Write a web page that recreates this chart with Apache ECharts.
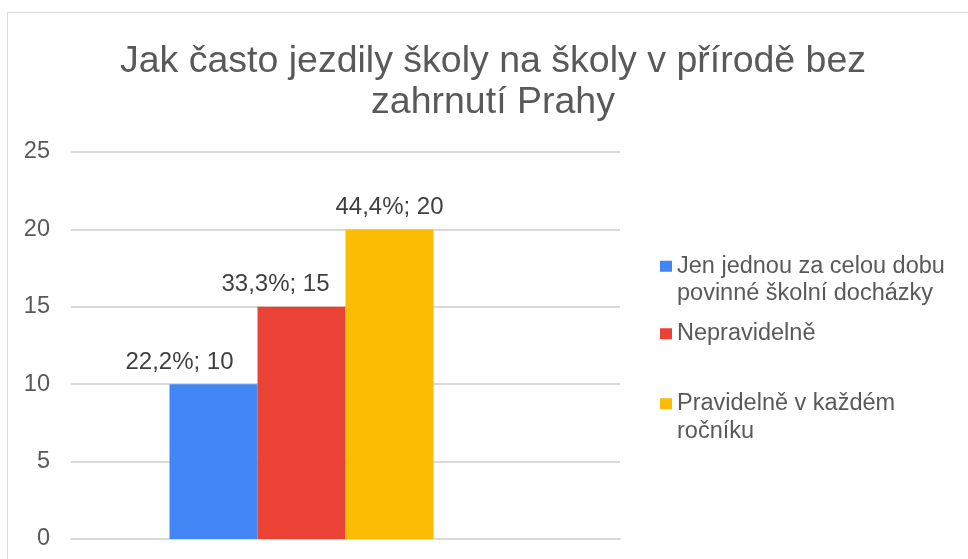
<!DOCTYPE html>
<html>
<head>
<meta charset="utf-8">
<script src="https://cdn.jsdelivr.net/npm/echarts@6/dist/echarts.min.js"></script>
<style>
    html, body { margin: 0; padding: 0; background: #fff; }
    #chart { width: 968px; height: 559px; }
</style>
</head>
<body>
<div id="chart"></div>
<script>
var categories = [''];
var seriesNames = ['Jen jednou za celou dobu povinné školní docházky', 'Nepravidelně', 'Pravidelně v každém ročníku'];
var legendLines = {
    'Jen jednou za celou dobu povinné školní docházky': ['Jen jednou za celou dobu', 'povinné školní docházky'],
    'Nepravidelně': ['Nepravidelně'],
    'Pravidelně v každém ročníku': ['Pravidelně v každém', 'ročníku']
};
var jenJednou = [10];
var nepravidelne = [15];
var pravidelne = [20];
var emptyBar = [null];   // prázdná 4. řada jako v původním grafu
var yTicks = [0, 5, 10, 15, 20, 25];

var myChart = echarts.init(document.getElementById('chart'));
var total = jenJednou[0] + nepravidelne[0] + pravidelne[0];
var font = 'Liberation Sans, Arial, sans-serif';

function labelFmt(p) {
    var pct = (p.value / total * 100).toFixed(1).replace('.', ',');
    return pct + '%; ' + p.value;
}

// ikonka u prvniho radku - prazdny radek nahore vycentruje ikonu na 1. radek
function legendFmt(name) {
    var lines = legendLines[name];
    if (lines.length > 1) {
        return '\n' + lines.join('\n');
    }
    return lines[0];
}

function legendBox(name, top) {
    return {
        data: [name],
        orient: 'vertical',
        left: 660,
        top: top,
        padding: 0,
        itemWidth: 12,
        itemHeight: 11,
        itemGap: 0,
        icon: 'rect',
        selectedMode: false,
        formatter: legendFmt,
        textStyle: {
            fontFamily: font,
            fontSize: 23.5,
            lineHeight: 27.5,
            color: '#595959'
        }
    };
}

function barSeries(name, data, color, offsetX) {
    return {
        name: name,
        type: 'bar',
        data: data,
        barWidth: 88,
        barGap: '0%',
        itemStyle: { color: color },
        label: {
            show: true,
            position: 'top',
            distance: 10,
            offset: [offsetX, 0],
            formatter: labelFmt,
            fontFamily: font,
            fontSize: 24,
            color: '#404040'
        }
    };
}

option = {
    animation: false,
    backgroundColor: '#fff',
    title: {
        text: 'Jak často jezdily školy na školy v přírodě bez\nzahrnutí Prahy',
        left: 488,
        top: 36,
        textAlign: 'center',
        textStyle: {
            fontFamily: font,
            fontSize: 37.5,
            lineHeight: 41,
            fontWeight: 'normal',
            color: '#595959'
        }
    },
    graphic: [{
        type: 'rect',
        shape: { x: 7.5, y: 12.5, width: 1000, height: 600 },
        style: { fill: 'none', stroke: '#d9d9d9', lineWidth: 1 },
        silent: true
    }],
    legend: [
        legendBox(seriesNames[0], 225),
        legendBox(seriesNames[1], 320),
        legendBox(seriesNames[2], 362.5)
    ],
    grid: {
        left: 71,
        right: 348,
        top: 152,
        bottom: 20
    },
    xAxis: {
        type: 'category',
        data: categories,
        axisLine: { lineStyle: { color: '#d9d9d9', width: 2 } },
        axisTick: { show: false },
        axisLabel: { show: false }
    },
    yAxis: {
        type: 'value',
        min: yTicks[0],
        max: yTicks[yTicks.length - 1],
        interval: 5,
        axisLine: { show: false },
        axisTick: { show: false },
        axisLabel: {
            margin: 21,
            fontFamily: font,
            fontSize: 23.5,
            color: '#595959'
        },
        splitLine: { lineStyle: { color: '#d9d9d9', width: 2 } }
    },
    series: [
        barSeries(seriesNames[0], jenJednou, '#4285F4', -34),
        barSeries(seriesNames[1], nepravidelne, '#EA4335', -26),
        barSeries(seriesNames[2], pravidelne, '#FBBC04', 0),
        { name: '', type: 'bar', data: emptyBar, barWidth: 88, barGap: '0%' }
    ]
};

myChart.setOption(option);
</script>
</body>
</html>
